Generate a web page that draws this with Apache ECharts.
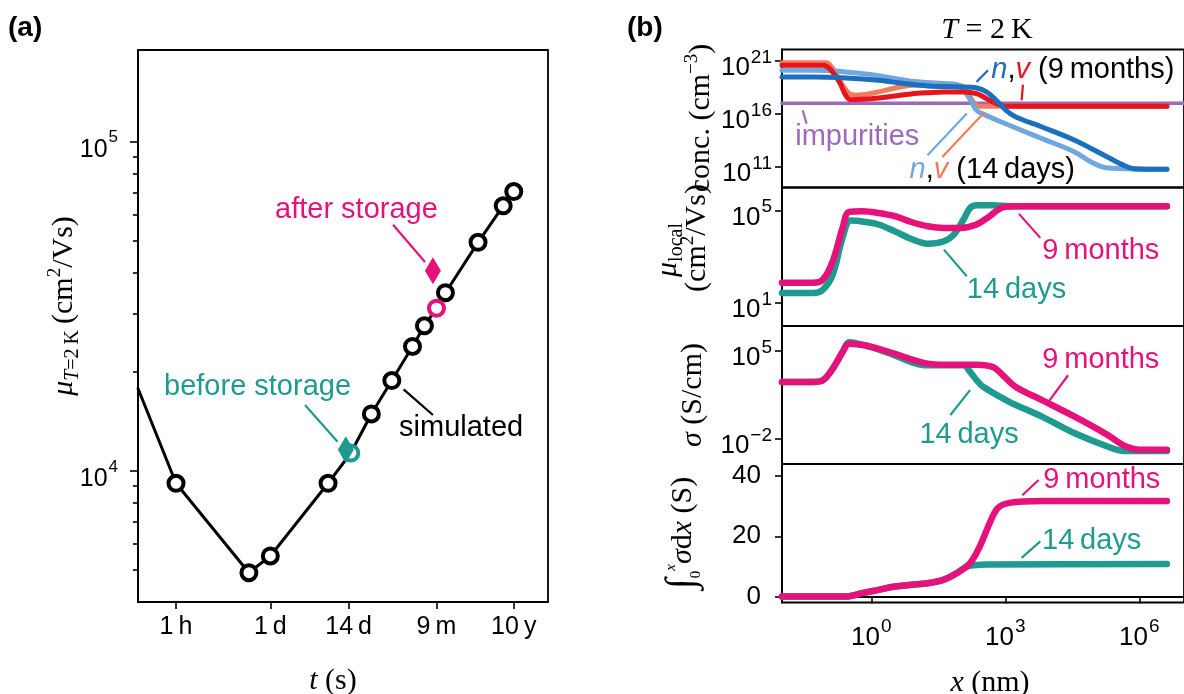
<!DOCTYPE html>
<html><head><meta charset="utf-8">
<script src="https://cdn.jsdelivr.net/npm/echarts@6/dist/echarts.min.js"></script>
<style>html,body{margin:0;padding:0;background:#fff}#c{width:1184px;height:694px}</style>
</head><body><div id="c"></div>
<script>
// ================= DATA =================
// ---- panel (a): mobility vs storage time ----
const tTickSec = [3600, 86400, 1209600, 23328000, 315576000];
const tTickLbl = ['1\u2009h', '1\u2009d', '14\u2009d', '9\u2009m', '10\u2009y'];
const muMajor = [1e4, 1e5];
const muMinor = [5e3, 6e3, 7e3, 8e3, 9e3, 2e4, 3e4, 4e4, 5e4, 6e4, 7e4, 8e4, 9e4];
const simStartT = [1e3];
const simStartMu = [17800];
const simT = [3600, 42000, 86400, 604800, 2.6e6, 5.18e6, 1.04e7, 1.555e7, 3.156e7, 9.47e7, 2.21e8, 3.156e8];
const simMu = [9175, 4910, 5520, 9175, 14900, 18820, 23900, 27600, 34800, 49500, 63900, 70600];
const sim14dT = [1.3e6], sim14dMu = [11340];
const sim9mT = [2.333e7], sim9mMu = [31230];
const beforeT = [1.1e6], beforeMu = [11600];
const afterT = [2.07e7], afterMu = [40600];

// ---- panel (b) ----
const xTicksB = [1, 1e3, 1e6];
const concTicks = [1e11, 1e16, 1e21];
const muTicks = [1e1, 1e5];
const sigTicks = [1e-2, 1e5];
const intTicks = [0, 20, 40];

const v9mX = [0.01, 0.0826, 0.1156, 0.192, 0.268, 0.346, 0.624, 1.45, 3.37, 7.82, 18.2, 42.2, 116, 228, 377, 626, 1038, 4.15e6];
const v9mY = [3.9e20, 3.9e20, 1.9e20, 1.05e19, 5.7e17, 2.2e17, 2.4e17, 3.2e17, 5.0e17, 7.7e17, 1.0e18, 1.2e18, 1.2e18, 8.3e17, 2.8e17, 9.4e16, 5.2e16, 5.2e16];
const v14dX = [0.01, 0.0977, 0.1368, 0.227, 0.318, 0.446, 1.45, 3.37, 7.82, 18.2, 59.1, 98, 137, 192, 269, 4.15e6];
const v14dY = [6.9e20, 6.9e20, 1.9e20, 5.0e18, 8.3e17, 5.8e17, 1.2e18, 2.8e18, 5.0e18, 5.8e18, 5.8e18, 5.0e18, 1.2e18, 1.35e17, 5.2e16, 5.2e16];
const n9mX = [0.01, 0.0498, 0.2685, 1.45, 5.58, 18.2, 98, 228, 377, 626, 1038, 1722, 6627, 35730, 193100, 448700, 743500, 4.15e6];
const n9mY = [3.1e19, 3.1e19, 2.5e19, 1.5e19, 7.3e18, 4.4e18, 3.5e18, 2.8e18, 1.2e18, 1.95e17, 2.2e16, 5.2e15, 5.9e14, 3.3e13, 8.7e11, 1.4e11, 6.9e10, 6.0e10];
const n14dX = [0.01, 0.0498, 0.2685, 1.034, 3.37, 7.82, 42.2, 82.8, 126, 177, 228, 447, 1228, 6627, 35730, 82990, 193100, 4.15e6];
const n14dY = [1.3e20, 1.3e20, 9.2e19, 5.1e19, 2.2e19, 1.2e19, 7.3e18, 5.8e18, 1.2e18, 1.35e17, 2.2e16, 5.2e15, 8.5e14, 4.7e13, 2.6e12, 3.0e11, 8.1e10, 6.0e10];
const impX = [0.01, 1e7];
const impY = [1e17, 1e17];

const mu9mX = [0.01, 0.0498, 0.0826, 0.1368, 0.2269, 0.3177, 0.6237, 1.449, 3.366, 7.82, 18.16, 42.2, 98, 227.6, 446.6, 877, 1722, 4.15e6];
const mu9mY = [74, 74, 103, 645, 1.78e4, 8.8e4, 9.4e4, 7.9e4, 5.7e4, 3.2e4, 2.1e4, 1.78e4, 1.78e4, 2.5e4, 5.7e4, 1.39e5, 1.54e5, 1.54e5];
const mu14dX = [0.01, 0.0498, 0.0826, 0.1368, 0.2269, 0.346, 0.738, 1.449, 3.366, 7.82, 18.16, 42.2, 69.9, 115.9, 162.5, 227.6, 528.6, 1228, 4.15e6];
const mu14dY = [27, 27, 38, 170, 6600, 3.7e4, 3.2e4, 2.5e4, 1.26e4, 5900, 3700, 4700, 9100, 4.1e4, 1.3e5, 1.7e5, 1.7e5, 1.54e5, 1.54e5];

const sg9mX = [0.01, 0.0498, 0.0826, 0.1368, 0.2269, 0.3177, 0.738, 1.449, 3.366, 7.82, 18.16, 42.2, 227.6, 528.6, 877, 1722, 6627, 35730, 193100, 448700, 1.04e6, 4.15e6];
const sg9mY = [350, 350, 475, 4000, 8.3e4, 3.8e5, 2.8e5, 1.5e5, 6.1e4, 2.2e4, 1.0e4, 8300, 8300, 5400, 1200, 140, 12.4, 0.59, 0.021, 0.0030, 0.00134, 0.00134];
const sg14dX = [0.01, 0.0498, 0.0826, 0.1368, 0.2269, 0.3177, 0.738, 1.449, 3.366, 7.82, 18.16, 42.2, 115.9, 162.5, 227.6, 318.8, 1228, 6627, 35730, 193100, 448700, 4.15e6];
const sg14dY = [350, 350, 475, 4000, 8.3e4, 5.1e5, 2.8e5, 1.36e5, 4.5e4, 1.34e4, 7300, 7300, 7300, 2200, 480, 142, 9.1, 0.59, 0.028, 0.0025, 0.0011, 0.0011];

const in9mX = [0.01, 0.2685, 0.6237, 1.449, 3.366, 7.82, 18.16, 42.2, 82.8, 162.5, 269.3, 446.6, 681, 1228, 6627, 4.15e6];
const in9mY = [0, 0, 1.1, 2.2, 3.3, 3.9, 4.4, 5.6, 7.8, 11.1, 16.7, 24.4, 29.4, 31.1, 31.7, 31.7];
const in14dX = [0.01, 0.2685, 0.6237, 1.449, 3.366, 7.82, 18.16, 42.2, 82.8, 137, 200, 400, 4.15e6];
const in14dY = [0, 0, 1.1, 2.2, 3.3, 3.9, 4.4, 5.6, 7.8, 9.9, 10.4, 10.6, 10.8];

// annotation anchors (data coordinates)
const annA = [
  {txt: 'after storage', col: 'MAG', at: [1.01e5, 62100], lead: [[5.4e6, 56000], [1.585e7, 43150]]},
  {txt: 'before storage', col: 'TEAL', at: [2400, 18000], lead: [[2.78e5, 15870], [8.32e5, 12270]]},
  {txt: 'simulated', col: 'BLACK', at: [6.6e6, 13520], lead: [[7.71e6, 17700], [2.07e7, 14790]]}
];
const annB = [
  {g: 1, txt: '{n|n}{c|,}{v|v}{c| (9\u2009months)}', at: [484, 1.3e20], leads: [[[226, 1.05e19], [409, 1.3e20], 'DBLUE'], [[2320, 1.95e17], [2480, 5.9e18], 'RED']]},
  {g: 1, txt: '{p|impurities}', at: [0.0197, 6.8e13], leads: [[[0.029, 2.2e16], [0.0356, 1.2e15], 'PURPLE']]},
  {g: 1, txt: '{n2|n}{c|,}{v2|v}{c| (14\u2009days)}', at: [7.18, 4.9e10], leads: [[[18.1, 1.26e12], [137, 1.1e16], 'LBLUE'], [[38.7, 8.7e11], [345, 1.55e16], 'SALMON']]},
  {g: 2, txt: '{m|9\u2009months}', at: [6710, 1730], leads: [[[2025, 7.2e4], [6060, 6560], 'MAG']]},
  {g: 2, txt: '{t|14\u2009days}', at: [137, 37.8], leads: [[[42.2, 2040], [137, 143], 'TEAL']]},
  {g: 3, txt: '{m|9\u2009months}', at: [6710, 1.83e4], leads: [[[2.54e4, 1190], [9230, 9.1], 'MAG']]},
  {g: 3, txt: '{t|14\u2009days}', at: [11.9, 0.021], leads: [[[162, 76.9], [58.9, 0.80], 'TEAL']]},
  {g: 4, txt: '{m|9\u2009months}', at: [7060, 38.7], leads: [[[2400, 33.6], [5560, 38.7], 'MAG']]},
  {g: 4, txt: '{t|14\u2009days}', at: [6610, 18.3], leads: [[[2320, 12.8], [6060, 18.3], 'TEAL']]}
];

// ================= STYLE =================
const C = {MAG: '#e5127c', TEAL: '#1f9a8f', RED: '#e8131b', SALMON: '#f07b5d', DBLUE: '#1b6fbd', LBLUE: '#70a8dd', PURPLE: '#9b6bb9', BLACK: '#000'};
const SANS = "'Liberation Sans', Arial, sans-serif";
const SERIF = "'Liberation Serif', 'Times New Roman', serif";
const ANN = 29, AXN = 30;

const zip = (xs, ys) => xs.map((x, i) => [x, ys[i]]);
const expFmt = v => { const e = Math.round(Math.log10(v)); return '{b|10}{s|' + (e < 0 ? '\u2212' + (-e) : e) + '}'; };
const supRich = (base, sup, raise) => ({
  b: {fontSize: base, lineHeight: base, verticalAlign: 'top', padding: [raise, 0, 0, 0], fontFamily: SANS, color: '#000'},
  s: {fontSize: sup, lineHeight: sup, verticalAlign: 'top', padding: [0, 0, 0, 1], fontFamily: SANS, color: '#000'}
});
const richA = supRich(25, 17, 8);
const richB = supRich(26, 19, 7);
const lineW = 1.8;

function logAxis(grid, min, max, ticks, opts) {
  opts = opts || {};
  const a = {
    gridIndex: grid, type: 'log', logBase: 10, min: min, max: max,
    splitLine: {show: false}, minorTick: {show: false}, minorSplitLine: {show: false},
    axisLine: {show: !!ticks && opts.line !== false, lineStyle: {color: '#000', width: lineW}},
    axisTick: ticks ? {show: true, customValues: ticks, length: opts.len || 7, lineStyle: {color: '#000', width: 1.6}} : {show: false},
    axisLabel: ticks && opts.label !== false ? {show: true, customValues: ticks, formatter: opts.fmt || expFmt, rich: opts.rich || richB, margin: opts.margin || 10, color: '#000', fontFamily: SANS, fontSize: 25} : {show: false}
  };
  if (opts.pos) a.position = opts.pos;
  if (opts.inside) a.axisTick.inside = true;
  return a;
}

const xAxes = [
  logAxis(0, 1e3, 1e9, tTickSec, {margin: 13, fmt: v => {
    let best = 0;
    tTickSec.forEach((t, i) => { if (Math.abs(Math.log10(t) - Math.log10(v)) < Math.abs(Math.log10(tTickSec[best]) - Math.log10(v))) best = i; });
    return tTickLbl[best];
  }}),
  logAxis(1, 0.01, 1e7, null),
  logAxis(2, 0.01, 1e7, null),
  logAxis(3, 0.01, 1e7, null),
  logAxis(4, 0.01, 1e7, xTicksB, {margin: 15}),
  logAxis(5, 1e3, 1e9, null)   // helper grid whose right edge is the left frame of (a)
];
xAxes[0].axisLabel.rich = undefined;

const yAxes = [
  logAxis(0, 4000, 1.9e5, muMajor, {len: 8, margin: 20, pos: 'left', rich: richA}),
  logAxis(1, 1.15e9, 1.2e22, concTicks, {margin: 10}),
  logAxis(2, 1, 1e6, muTicks, {margin: 10}),
  logAxis(3, 1e-4, 1e7, sigTicks, {margin: 10}),
  {gridIndex: 4, type: 'value', min: -2, max: 44, splitLine: {show: false},
   axisLine: {show: true, lineStyle: {color: '#000', width: lineW}},
   axisTick: {show: true, customValues: intTicks, length: 7, lineStyle: {color: '#000', width: 1.6}},
   axisLabel: {show: true, customValues: intTicks, margin: 21, color: '#000', fontFamily: SANS, fontSize: 26}},
  Object.assign(logAxis(5, 4000, 1.9e5, null), {show: false}),
  logAxis(5, 4000, 1.9e5, muMinor, {len: 5, label: false, line: false, inside: true})   // minor ticks of (a)
];

const gridBox = (l, t, w, h, show) => ({left: l, top: t, width: w, height: h, show: show !== false, borderColor: '#000', borderWidth: lineW, backgroundColor: 'transparent'});
const grids = [
  gridBox(138, 50, 410, 552),
  gridBox(782, 49.5, 410, 138),
  gridBox(782, 187.5, 410, 138.5),
  gridBox(782, 326, 410, 138),
  gridBox(782, 464, 410, 138.5),
  gridBox(-272, 50, 410, 552, false)
];

const series = [];
function curve(g, xs, ys, color, w, z) {
  series.push({type: 'line', xAxisIndex: g, yAxisIndex: g, data: zip(xs, ys), showSymbol: false, symbol: 'none',
    smooth: 0.35, lineStyle: {color: color, width: w, cap: 'round', join: 'round', opacity: 1}, z: z || 2, silent: true, animation: false});
}
function lead(g, p1, p2, color) {
  series.push({type: 'line', xAxisIndex: g, yAxisIndex: g, data: [p1, p2], symbol: 'none', showSymbol: false,
    lineStyle: {color: color, width: 2.2, opacity: 1}, z: 6, silent: true, animation: false});
}
function label(g, at, text, rich, z) {
  series.push({type: 'scatter', xAxisIndex: g, yAxisIndex: g, data: [at], symbol: 'circle', symbolSize: 0.1,
    itemStyle: {color: 'transparent', opacity: 1}, silent: true, animation: false, z: z || 7,
    label: {show: true, position: 'right', distance: 0, opacity: 1, formatter: text, rich: rich, fontFamily: SANS, fontSize: ANN}});
}
function pts(xs, ys, symbol, size, item, z) {
  item.opacity = 1;
  series.push({type: 'scatter', xAxisIndex: 0, yAxisIndex: 0, data: zip(xs, ys), symbol: symbol, symbolSize: size,
    itemStyle: item, z: z, silent: true, animation: false});
}

// panel (a)
const allT = simStartT.concat(simT, sim14dT, sim9mT);
const allMu = simStartMu.concat(simMu, sim14dMu, sim9mMu);
const order = allT.map((t, i) => i).sort((a, b) => allT[a] - allT[b]);
curve(0, order.map(i => allT[i]), order.map(i => allMu[i]), '#000', 3, 2);
series[series.length - 1].smooth = false;
pts(simT, simMu, 'circle', 15, {color: '#fff', borderColor: '#000', borderWidth: 4}, 3);
pts(sim14dT, sim14dMu, 'circle', 15, {color: '#fff', borderColor: C.TEAL, borderWidth: 4}, 3);
pts(sim9mT, sim9mMu, 'circle', 15, {color: '#fff', borderColor: C.MAG, borderWidth: 4}, 3);
pts(beforeT, beforeMu, 'diamond', [16, 27], {color: C.TEAL}, 4);
pts(afterT, afterMu, 'diamond', [16, 27], {color: C.MAG}, 4);
// invisible copy of the simulated points on the helper grid so its axes are laid out
series.push({type: 'scatter', xAxisIndex: 5, yAxisIndex: 6, data: zip(simT, simMu), symbolSize: 0,
  itemStyle: {opacity: 0}, silent: true, animation: false, z: 0});
annA.forEach(a => {
  lead(0, a.lead[0], a.lead[1], C[a.col]);
  label(0, a.at, '{a|' + a.txt + '}', {a: {color: C[a.col], fontFamily: SANS, fontSize: ANN}});
});

// panel (b)
curve(1, impX, impY, C.PURPLE, 3.5, 2);
curve(1, v14dX, v14dY, C.SALMON, 5, 3);
curve(1, n14dX, n14dY, C.LBLUE, 5, 3);
curve(1, v9mX, v9mY, C.RED, 5, 4);
curve(1, n9mX, n9mY, C.DBLUE, 5, 4);
curve(2, mu14dX, mu14dY, C.TEAL, 6.5, 3);
curve(2, mu9mX, mu9mY, C.MAG, 6.5, 4);
curve(3, sg14dX, sg14dY, C.TEAL, 6.5, 3);
curve(3, sg9mX, sg9mY, C.MAG, 6.5, 4);
curve(4, in14dX, in14dY, C.TEAL, 6.5, 3);
curve(4, in9mX, in9mY, C.MAG, 6.5, 4);

const annRich = {
  n: {color: C.DBLUE, fontStyle: 'italic', fontFamily: SANS, fontSize: ANN},
  v: {color: C.RED, fontStyle: 'italic', fontFamily: SANS, fontSize: ANN},
  n2: {color: C.LBLUE, fontStyle: 'italic', fontFamily: SANS, fontSize: ANN},
  v2: {color: C.SALMON, fontStyle: 'italic', fontFamily: SANS, fontSize: ANN},
  c: {color: '#000', fontFamily: SANS, fontSize: ANN},
  p: {color: C.PURPLE, fontFamily: SANS, fontSize: ANN},
  m: {color: C.MAG, fontFamily: SANS, fontSize: ANN},
  t: {color: C.TEAL, fontFamily: SANS, fontSize: ANN}
};
annB.forEach(a => {
  a.leads.forEach(l => lead(a.g, l[0], l[1], C[l[2]]));
  label(a.g, a.at, a.txt, annRich);
});

// ---- text: titles and axis names (all tokens top-aligned; offsets via top padding) ----
const P = 9;
const tok = (sz, it, pad) => ({fontFamily: SERIF, fontSize: sz, lineHeight: sz, fontStyle: it ? 'italic' : 'normal', color: '#000', verticalAlign: 'top', padding: [pad, 0, 0, 0]});
const mathRich = {
  r: tok(AXN, false, P),
  i: tok(AXN, true, P),
  p: tok(19, false, P - 3),
  si: tok(20, true, P + 14),
  s: tok(20, false, P + 14),
  int: tok(40, false, P - 6),
  lo: tok(15, false, P + 21),
  hi: tok(15, true, P - 4)
};
function txt(x, y, text, rot, rich) {
  return {type: 'text', x: x, y: y, rotation: rot || 0, silent: true,
    style: {text: text, rich: rich || mathRich, align: 'center', verticalAlign: 'middle', fill: '#000'}};
}
const graphics = [
  {type: 'text', x: 8, y: 28, silent: true, style: {text: '(a)', font: 'bold 28px ' + SANS, fill: '#000', align: 'left', verticalAlign: 'middle'}},
  {type: 'text', x: 627, y: 28, silent: true, style: {text: '(b)', font: 'bold 28px ' + SANS, fill: '#000', align: 'left', verticalAlign: 'middle'}},
  txt(987, 21, '{i|T}{r| = 2\u2009K}'),
  txt(55, 306, '{i|\u03bc}{si|T}{s|=2\u2009K}{r|\u2009(cm}{p|2}{r|/Vs)}', Math.PI / 2),
  txt(333, 672, '{i|t}{r| (s)}'),
  txt(990, 674, '{i|x}{r| (nm)}'),
  txt(692, 118, '{r|conc. (cm}{p|\u22123}{r|)}', Math.PI / 2),
  txt(659, 250, '{i|\u03bc}{s|local}', Math.PI / 2),
  txt(688, 238, '{r|(cm}{p|2}{r|/Vs)}', Math.PI / 2),
  txt(684, 395, '{i|\u03c3}{r| (S/cm)}', Math.PI / 2),
  txt(679, 533, '{int|\u222b}{lo|0}{hi|x}{i|\u03c3}{r|d}{i|x}{r| (S)}', Math.PI / 2)
];

const chart = echarts.init(document.getElementById('c'), null, {renderer: 'canvas', width: 1184, height: 694});
chart.setOption({
  animation: false,
  backgroundColor: '#fff',
  grid: grids,
  xAxis: xAxes,
  yAxis: yAxes,
  series: series,
  graphic: graphics
});
</script></body></html>
